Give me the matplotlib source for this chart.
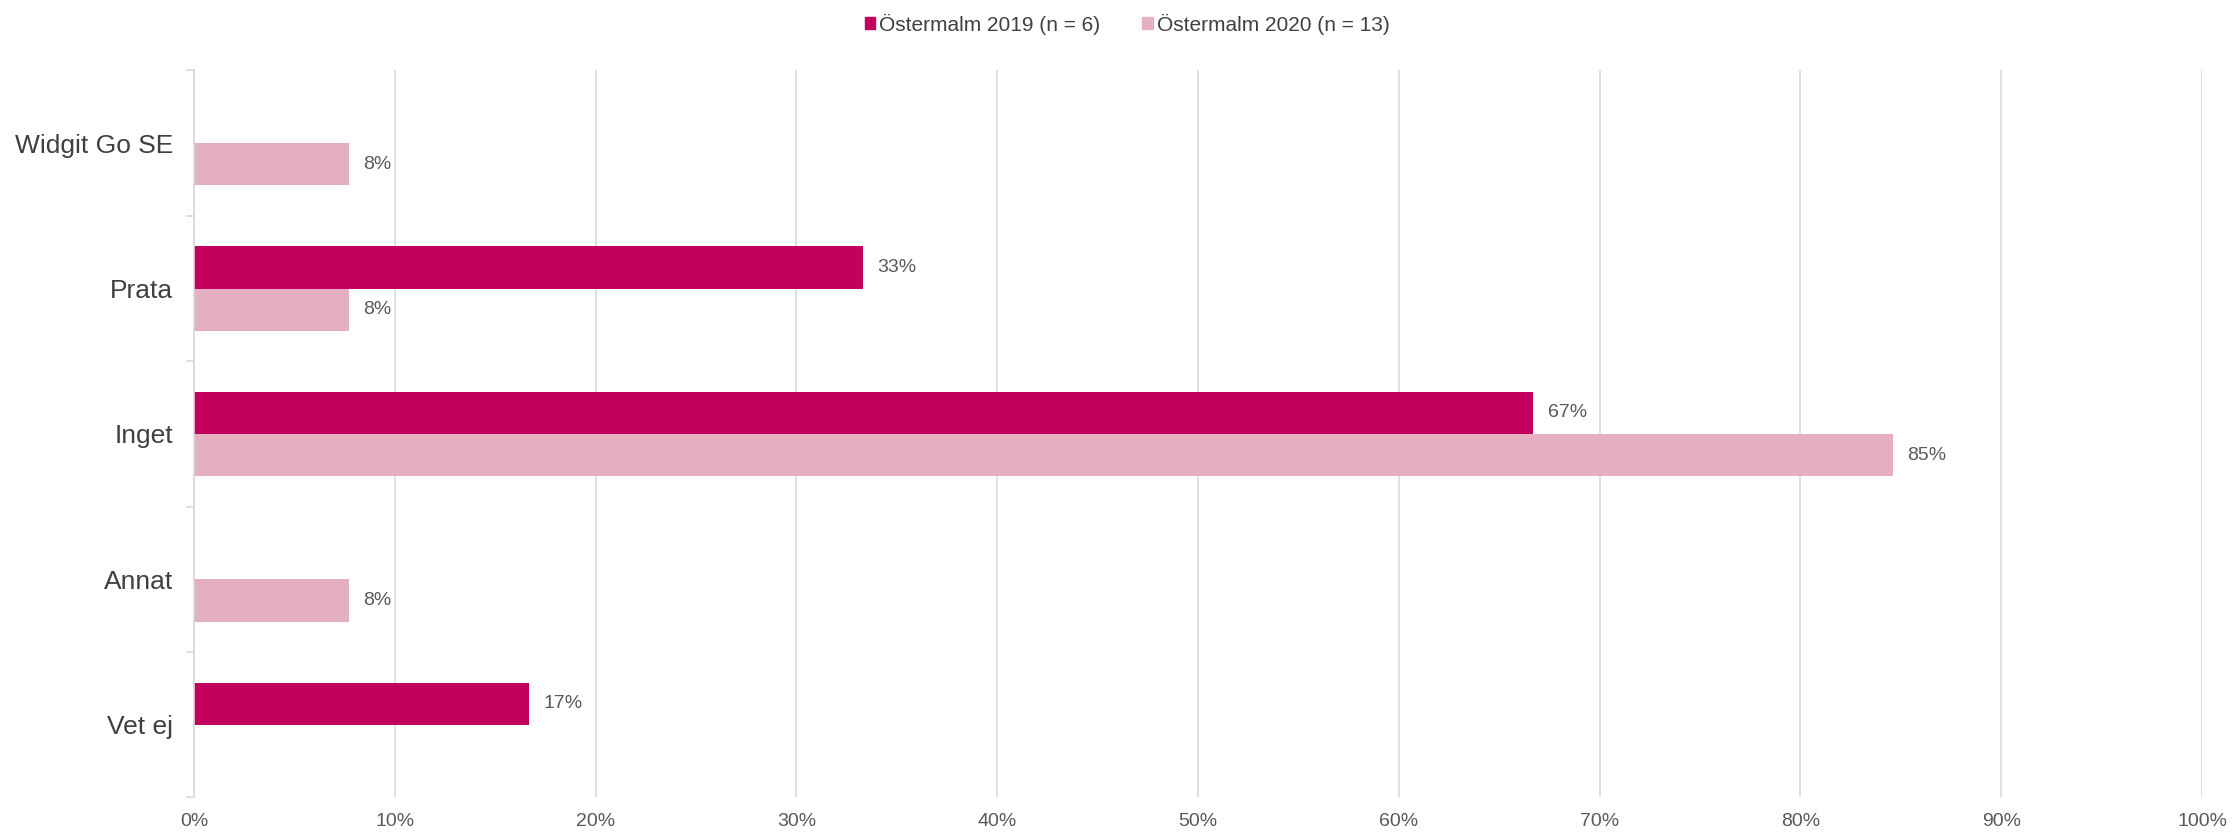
import matplotlib
matplotlib.use("Agg")
import matplotlib.pyplot as plt
from matplotlib.patches import Patch
import numpy as np

plt.rcParams['font.family'] = ['Liberation Sans', 'DejaVu Sans']

categories = ["Widgit Go SE", "Prata", "Inget", "Annat", "Vet ej"]
series_names = ["Östermalm 2019 (n = 6)", "Östermalm 2020 (n = 13)"]
values_2019 = [0, 33.3, 66.7, 0, 16.7]
values_2020 = [7.7, 7.7, 84.6, 7.7, 0]
x_ticks = list(range(0, 101, 10))

c2019 = "#C4005F"
c2020 = "#E4B0C1"
grid_c = "#D9D9D9"

fig = plt.figure(figsize=(22.32, 8.32), dpi=100)
ax = fig.add_axes([0.0869, 0.0415, 0.8997, 0.8738])

n = len(categories)
y = np.arange(n)
h = 0.29
ax.barh(y - h / 2, values_2019, height=h, color=c2019, zorder=3)
ax.barh(y + h / 2, values_2020, height=h, color=c2020, zorder=3)

for yi, v in zip(y, values_2019):
    if v > 0:
        ax.annotate(f"{v:.0f}%", (v, yi - h / 2), xytext=(10.5, 0), textcoords="offset points",
                    va="center", ha="left", fontsize=14, color="#595959")
for yi, v in zip(y, values_2020):
    if v > 0:
        ax.annotate(f"{v:.0f}%", (v, yi + h / 2), xytext=(10.5, 0), textcoords="offset points",
                    va="center", ha="left", fontsize=14, color="#595959")

ax.set_xlim(0, 100)
ax.set_ylim(n - 0.5, -0.5)
ax.set_xticks(x_ticks)
ax.set_xticklabels([f"{t}%" for t in x_ticks], fontsize=14, color="#595959")
ax.tick_params(axis="x", length=0, pad=11)
ax.set_yticks(y)
ax.set_yticklabels(categories, fontsize=19, color="#404040")
ax.tick_params(axis="y", which="major", length=0, pad=15)
ax.set_yticks(np.arange(-0.5, n + 0.5, 1), minor=True)
ax.tick_params(axis="y", which="minor", length=6, color=grid_c, width=1.2)

ax.grid(axis="x", color=grid_c, linewidth=1.2, zorder=0)
for s in ["top", "right", "bottom"]:
    ax.spines[s].set_visible(False)
ax.spines["left"].set_color(grid_c)
ax.spines["left"].set_linewidth(1.2)
ax.spines["left"].set_zorder(4)

handles = [Patch(color=c2019), Patch(color=c2020)]
fig.legend(handles, series_names, loc="center", bbox_to_anchor=(0.505, 0.971), ncol=2,
           frameon=False, fontsize=15, handlelength=0.5, handleheight=0.5,
           handletextpad=0.2, columnspacing=2.0, labelcolor="#404040")

fig.savefig("out.png", dpi=100)
